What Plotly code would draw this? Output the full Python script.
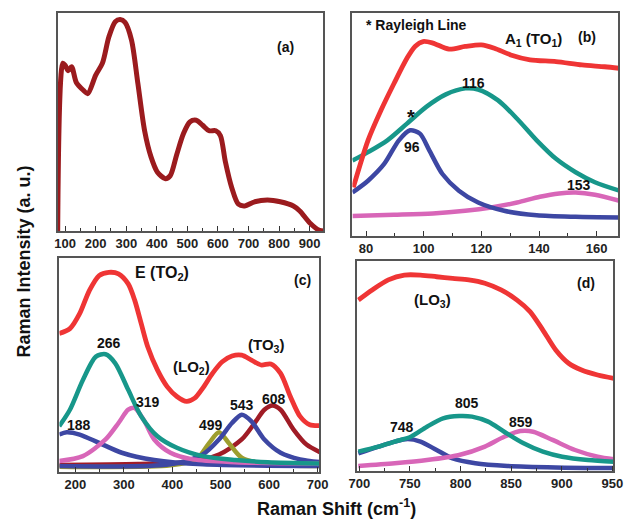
import plotly.graph_objects as go

W, H = 638, 519

# ---------------- Panel (a): full spectrum ----------------
a_x = [75.6, 92.6, 100, 110, 121, 137, 160, 174, 200, 222, 243, 264, 280, 296, 317, 338, 360, 381, 402,
       428, 444, 465, 487, 508, 529, 550, 571, 593, 608, 624, 645, 667, 688, 720, 762, 804, 847, 868, 900, 932, 947]
a_y = [0, 77, 76, 73.5, 75.4, 68, 64.5, 63, 71.5, 77, 89, 96, 97, 95.7, 87.7, 67.7, 46, 34, 27,
       24, 25.4, 35, 44.6, 50, 50.8, 48.5, 46, 46, 43.8, 32, 20, 12.3, 11.5, 13.4, 14.2, 13.4, 11.5, 9.2, 3.8, 0.3, 0]

# ---------------- Panel (b): 75-168 cm-1 ----------------
b_fit_x = [75.6, 80.7, 85.2, 89.7, 94.2, 97, 99.8, 103.2, 108.8, 114.4, 120, 124.5, 130.2, 136.9, 145.9, 154.9, 162.8, 167.9]
b_fit_y = [21.8, 42.9, 56.4, 68.4, 79.7, 85, 87.2, 86.5, 83.8, 85, 85.7, 84.2, 81.2, 79, 78.2, 76.7, 75.9, 75.2]
b116_x = [75.3, 80.7, 87.4, 94.2, 100.9, 107.7, 114.4, 118.9, 125.7, 132.4, 139.2, 145.9, 152.7, 159.4, 167.9]
b116_y = [33.8, 37.6, 42.9, 50.4, 57.9, 63.5, 66.2, 65.7, 60.9, 52.6, 42.9, 34.6, 28.6, 24.1, 20.3]
b96_x = [75.3, 80.7, 86.3, 91.4, 95.3, 98.7, 102, 106.5, 112.2, 118.9, 127.9, 139.2, 152.7, 167.9]
b96_y = [19.5, 24.8, 32.3, 42.9, 47.4, 45.9, 38.3, 27.8, 20.3, 15, 11.3, 9.3, 8.6, 8.3]
b153_x = [75.3, 89.7, 103.2, 114.4, 123.4, 132.4, 140.3, 147, 152.7, 159.4, 167.9]
b153_y = [9, 9.5, 10.1, 11.3, 12.8, 15, 17.6, 19.1, 19.5, 18.5, 15.8]

# ---------------- Panel (c): 167-704 cm-1 ----------------
c_fit_x = [166.5, 188.6, 208.7, 228.8, 248.9, 269, 289, 309, 322.5, 335.9, 349.3, 369.3, 389.4, 409.5, 429.6,
           446.3, 463, 483.1, 503.2, 523.3, 543.4, 563.5, 583.5, 603.6, 623.7, 643.8, 663.9, 683.9, 707.4]
c_fit_y = [64.7, 67, 74, 84.8, 91.8, 93.3, 92.6, 87.9, 80.2, 69.3, 58.5, 47.7, 39.9, 35.3, 33,
           34.5, 39.2, 46.1, 51.5, 54.2, 54.6, 52.3, 50, 50.5, 46.1, 35.3, 26, 22.1, 21.7]
c266_x = [166.5, 188.6, 215.4, 242.2, 262.2, 282.3, 309, 335.9, 369.3, 409.5, 463, 530, 597, 707]
c266_y = [21.4, 29.1, 43, 53.9, 55, 50.8, 38.4, 26, 16.7, 11.3, 7.4, 5.6, 4.6, 4]
c319_x = [166.5, 215.4, 262.2, 289, 309, 322.5, 342.6, 362.7, 396.1, 443, 530, 707]
c319_y = [5.1, 7.4, 15.2, 22.9, 29.1, 29.9, 23.7, 15.2, 9, 5.9, 4.6, 4]
c188_x = [166.5, 181.9, 208.7, 248.9, 295.7, 362.7, 463, 707]
c188_y = [17.5, 18.6, 17.5, 13.6, 9, 5.6, 3.6, 2.8]
c499_x = [166.5, 396, 449.7, 476.4, 496.5, 516.6, 543.4, 597, 707]
c499_y = [2.5, 3.1, 5.9, 13.6, 18.6, 13.6, 6.7, 3.6, 2.8]
c543_x = [166.5, 396, 463, 496.5, 523.3, 543.4, 563.5, 590.2, 623.7, 663.9, 707]
c543_y = [2.8, 3.6, 8.2, 15.2, 22.9, 26.8, 23.7, 15.2, 9, 5.9, 4.6]
c608_x = [166.5, 329, 429.6, 496.5, 543.4, 570.1, 590.2, 607, 623.7, 650.5, 677.2, 707.4]
c608_y = [3.3, 3.7, 4.6, 8.2, 15.2, 22.9, 29.1, 31.1, 29.1, 19.8, 12.8, 9]

# ---------------- Panel (d): 698-951 cm-1 ----------------
d_fit_x = [699, 712.7, 728.6, 744.5, 760.4, 776.3, 792.2, 808.1, 824, 840, 855.8, 868.6, 881.3, 894, 906.7, 919.5, 935.4, 951.3]
d_fit_y = [81.4, 86.2, 91, 93.3, 93.3, 92.5, 91.7, 91, 89.4, 86.2, 81.4, 75.9, 67.1, 57.6, 51.3, 48.1, 45.7, 44.1]
d805_x = [699, 719, 735, 750.9, 766.8, 782.7, 798.6, 811.3, 827.2, 843.1, 862.2, 881.3, 900.4, 925.8, 951]
d805_y = [9.2, 11.6, 14, 16.3, 21.1, 25.1, 26.2, 25.9, 23.5, 18.7, 13.2, 9.2, 6.8, 5.2, 4.4]
d748_x = [699, 719, 735, 747.7, 760.4, 776.3, 792.2, 814.5, 846.3, 894, 951]
d748_y = [8.4, 11.6, 14, 15.2, 14, 10, 6, 3.7, 2.4, 1.7, 1.4]
d859_x = [699, 735, 766.8, 798.6, 824, 843.1, 859, 871.7, 890.8, 913.1, 935.4, 951.3]
d859_y = [2.4, 3.7, 5.2, 7.6, 11.6, 16.3, 19, 18.7, 14.8, 10, 6.8, 5.6]

# ---------------- styling ----------------
RED = "#ef3535"
TEAL = "#17978a"
BLUE = "#3d47a3"
PINK = "#d866b8"
OLIVE = "#9e9e2e"
MAROON = "#a01c26"
DARK = "#9b1b1e"
FONT = "Liberation Sans"

fig = go.Figure()


def add(x, y, color, ax, width=4.5):
    fig.add_trace(go.Scatter(x=x, y=y, mode="lines", line=dict(color=color, width=width, shape="spline", smoothing=0.8),
                             xaxis="x" + ax, yaxis="y" + ax, showlegend=False, hoverinfo="skip"))


add(a_x, a_y, DARK, "", 5)
add(b153_x, b153_y, PINK, "2")
add(b96_x, b96_y, BLUE, "2")
add(b116_x, b116_y, TEAL, "2")
add(b_fit_x, b_fit_y, RED, "2", 4.8)
add(c608_x, c608_y, MAROON, "3")
add(c499_x, c499_y, OLIVE, "3")
add(c188_x, c188_y, BLUE, "3")
add(c543_x, c543_y, BLUE, "3")
add(c319_x, c319_y, PINK, "3")
add(c266_x, c266_y, TEAL, "3")
add(c_fit_x, c_fit_y, RED, "3", 4.8)
add(d748_x, d748_y, BLUE, "4")
add(d859_x, d859_y, PINK, "4")
add(d805_x, d805_y, TEAL, "4")
add(d_fit_x, d_fit_y, RED, "4", 4.8)


def dom(x0, x1, y0, y1):
    return [x0 / W, x1 / W], [1 - y1 / H, 1 - y0 / H]


def xax(domain, rng, tick0, dtick, mdtick, anchor):
    return dict(domain=domain, range=rng, tick0=tick0, dtick=dtick, anchor=anchor,
                showline=True, mirror=True, linecolor="#555555", linewidth=1.5,
                ticks="inside", ticklen=5, tickwidth=1.2, tickcolor="#333333",
                minor=dict(dtick=mdtick, ticks="inside", ticklen=3, tickcolor="#333333"),
                showgrid=False, zeroline=False,
                tickfont=dict(family=FONT, size=13, color="#222222", weight="bold"))


def yax(domain, anchor):
    return dict(domain=domain, range=[0, 100], anchor=anchor, showline=True, mirror=True,
                linecolor="#555555", linewidth=1.5, showticklabels=False, ticks="",
                showgrid=False, zeroline=False)


ax_dx, ax_dy = dom(50, 324, 13, 231)
bx_dx, bx_dy = dom(354, 628, 13, 236)
cx_dx, cx_dy = dom(52, 320, 258, 472)
dx_dx, dx_dy = dom(359, 623, 261, 471)

fig.update_layout(
    width=W, height=H, margin=dict(l=0, r=0, t=0, b=0),
    plot_bgcolor="white", paper_bgcolor="white",
    xaxis=xax(ax_dx, [75, 945], 100, 100, 50, "y"),
    yaxis=yax(ax_dy, "x"),
    xaxis2=xax(bx_dx, [75.3, 167.5], 80, 20, 10, "y2"),
    yaxis2=yax(bx_dy, "x2"),
    xaxis3=xax(cx_dx, [167, 704], 200, 100, 50, "y3"),
    yaxis3=yax(cx_dy, "x3"),
    xaxis4=xax(dx_dx, [698, 951], 700, 50, 25, "y4"),
    yaxis4=yax(dx_dy, "x4"),
)


def note(text, x, y, size=13, angle=0):
    fig.add_annotation(text=text, x=x / W, y=1 - y / H, xref="paper", yref="paper", showarrow=False,
                       xanchor="center", yanchor="middle", textangle=angle,
                       font=dict(family=FONT, size=size, color="#111111", weight="bold"))


note("(a)", 285, 47, 14)
note("* Rayleigh Line", 420, 25, 14)
note("A<sub>1</sub> (TO<sub>1</sub>)", 541, 39, 15)
note("(b)", 596, 37, 14)
note("116", 479, 83, 14)
note("*", 414, 117, 20)
note("96", 415, 147, 14)
note("153", 587, 185, 14)

note("E (TO<sub>2</sub>)", 158, 273, 16)
note("(c)", 302, 280, 14)
note("266", 103, 343, 14)
note("(LO<sub>2</sub>)", 188, 367, 15)
note("(TO<sub>3</sub>)", 265, 345, 15)
note("319", 143, 402, 14)
note("188", 72, 425, 14)
note("499", 208, 425, 14)
note("543", 240, 405, 14)
note("608", 273, 399, 14)

note("(LO<sub>3</sub>)", 437, 300, 15)
note("(d)", 595, 283, 14)
note("805", 472, 403, 14)
note("748", 405, 427, 14)
note("859", 528, 422, 14)

note("Raman Intensity (a. u.)", 15, 262, 18, -90)
note("Raman Shift (cm<sup>-1</sup>)", 338, 507, 18)

fig.write_html("out.html", config={"displayModeBar": False},
               post_script="document.body.style.margin='0';document.body.style.overflow='hidden';")
